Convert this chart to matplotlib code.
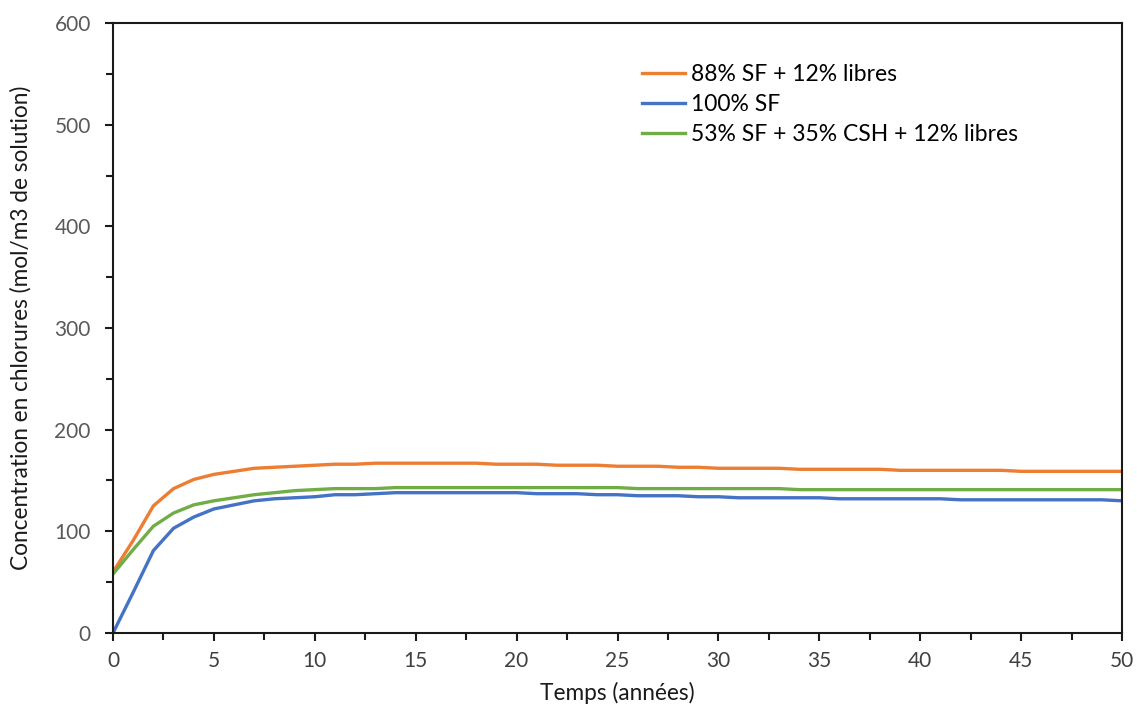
import matplotlib.pyplot as plt
from matplotlib.ticker import MultipleLocator

plt.rcParams['font.family'] = ['Lato', 'DejaVu Sans']

temps = list(range(0, 51))

sf88 = [60, 91, 125, 142, 151, 156, 159, 162, 163, 164,
        165, 166, 166, 167, 167, 167, 167, 167, 167, 166,
        166, 166, 165, 165, 165, 164, 164, 164, 163, 163,
        162, 162, 162, 162, 161, 161, 161, 161, 161, 160,
        160, 160, 160, 160, 160, 159, 159, 159, 159, 159, 159]

sf100 = [0, 40, 81, 103, 114, 122, 126, 130, 132, 133,
         134, 136, 136, 137, 138, 138, 138, 138, 138, 138,
         138, 137, 137, 137, 136, 136, 135, 135, 135, 134,
         134, 133, 133, 133, 133, 133, 132, 132, 132, 132,
         132, 132, 131, 131, 131, 131, 131, 131, 131, 131, 130]

sf53 = [58, 82, 105, 118, 126, 130, 133, 136, 138, 140,
        141, 142, 142, 142, 143, 143, 143, 143, 143, 143,
        143, 143, 143, 143, 143, 143, 142, 142, 142, 142,
        142, 142, 142, 142, 141, 141, 141, 141, 141, 141,
        141, 141, 141, 141, 141, 141, 141, 141, 141, 141, 141]

labels = ['88% SF + 12% libres', '100% SF', '53% SF + 35% CSH + 12% libres']
colors = ['#ED7D31', '#4472C4', '#70AD47']

fig = plt.figure(figsize=(11.37, 7.04), dpi=100)
ax = fig.add_axes([0.0994, 0.1009, 0.8874, 0.8664])

for serie, lab, col in zip([sf88, sf100, sf53], labels, colors):
    ax.plot(temps, serie, color=col, linewidth=2.4, label=lab)

ax.set_xlim(0, 50)
ax.set_ylim(0, 600)
ax.xaxis.set_major_locator(MultipleLocator(5))
ax.xaxis.set_minor_locator(MultipleLocator(2.5))
ax.yaxis.set_major_locator(MultipleLocator(100))
ax.yaxis.set_minor_locator(MultipleLocator(50))

for s in ax.spines.values():
    s.set_color('#1a1a1a')
    s.set_linewidth(1.5)

ax.tick_params(axis='both', which='major', direction='out', length=6, width=1.5,
               color='#1a1a1a', labelsize=15, labelcolor='#595959')
ax.tick_params(axis='both', which='minor', direction='out', length=5, width=1.5,
               color='#1a1a1a')
ax.tick_params(axis='y', pad=10)
ax.tick_params(axis='x', labelcolor='#404040', pad=7)

ax.set_xlabel('Temps (années)', fontsize=16.3, color='#1a1a1a', labelpad=8)
ax.set_ylabel('Concentration en chlorures (mol/m3 de solution)', fontsize=16.3,
              color='#1a1a1a')
ax.yaxis.set_label_coords(-0.081, 0.5)

ax.legend(loc='upper left', bbox_to_anchor=(0.504, 0.967), frameon=False,
          fontsize=16.5, handlelength=1.88, handletextpad=0.26, labelspacing=0.4)

fig.savefig('out.png', dpi=100)
